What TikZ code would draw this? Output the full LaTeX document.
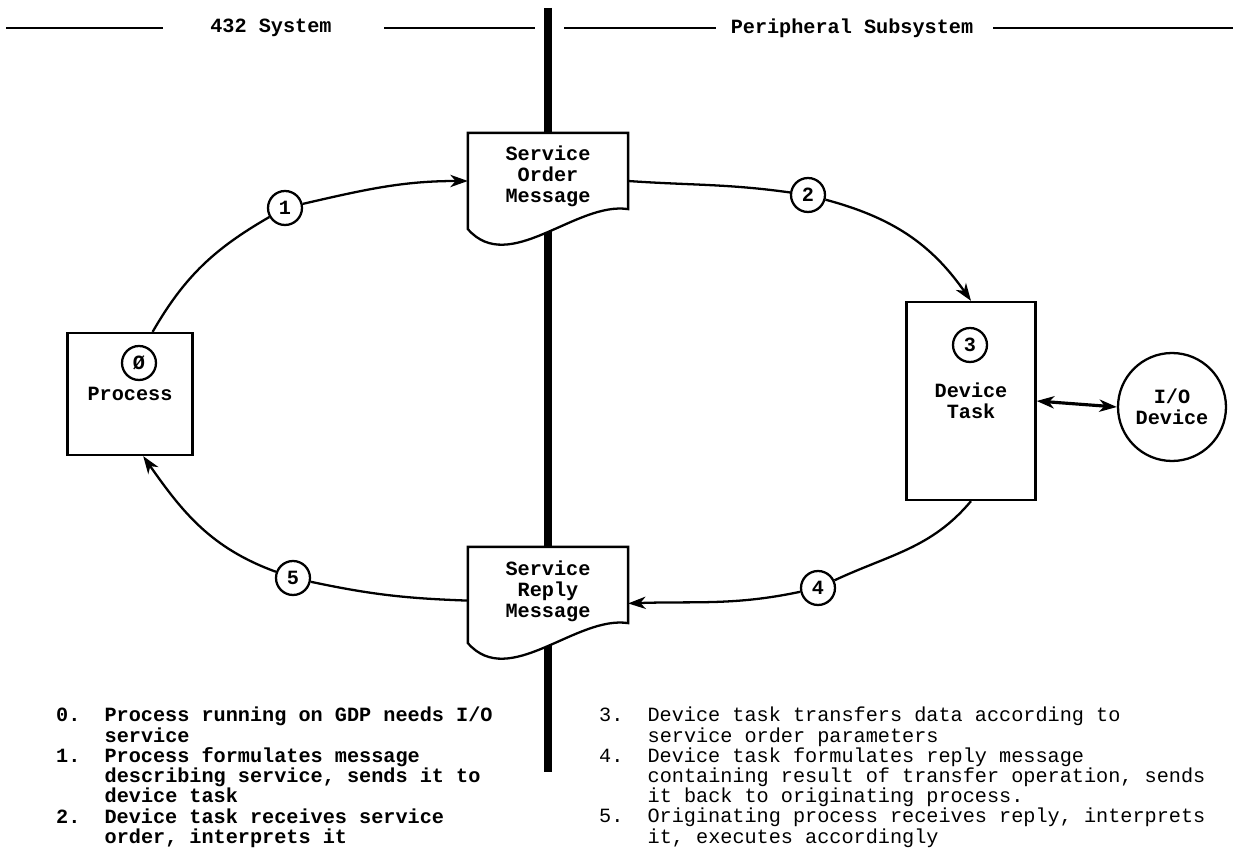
\documentclass[tikz,border=0pt]{standalone}
\usepackage{fontspec}
\setmainfont{Liberation Mono}
\usetikzlibrary{arrows.meta}

\begin{document}
\fontsize{11.5pt}{12pt}\selectfont
\begin{tikzpicture}[x=0.02cm, y=0.02cm, line width=1.3pt, >={Stealth[length=10pt,width=7pt,inset=3pt]},
  numcirc/.style={circle, draw, fill=white, minimum size=0.68cm, inner sep=0pt, font=\bfseries},
  flowbox/.style={rectangle, draw, fill=white, inner sep=0pt, align=center, font=\bfseries},
  msgbox/.style={rectangle, minimum width=3.16cm, minimum height=1.88cm, inner sep=0pt},
  msgtext/.style={align=center, inner sep=0pt, font=\bfseries},
  headrule/.style={line width=1.6pt},
  notes/.style={anchor=base west, inner sep=0pt}]
\useasboundingbox (0,0) rectangle (1235,856);
\coordinate (divtop) at (548,848);
\coordinate (divbot) at (548,84);
\draw[line width=4pt] (divtop) -- (divbot);
\node (sys) at (271,828) [font=\bfseries] {432 System};
\node (per) at (852,828) [font=\bfseries] {Peripheral Subsystem};
\coordinate (sysa) at (6,828);
\coordinate (sysb) at (163,828);
\coordinate (sysc) at (384,828);
\coordinate (sysd) at (535,828);
\coordinate (pera) at (564,828);
\coordinate (perb) at (716,828);
\coordinate (perc) at (993,828);
\coordinate (perd) at (1233,828);
\draw[headrule] (sysa) -- (sysb);
\draw[headrule] (sysc) -- (sysd);
\draw[headrule] (pera) -- (perb);
\draw[headrule] (perc) -- (perd);
\node (proc) at (130,462) [flowbox, minimum width=2.5cm, minimum height=2.44cm] {Process};
\node (c0) at (139,493) [numcirc] {Ø};
\node (task) at (971,455) [flowbox, minimum width=2.58cm, minimum height=3.96cm] {Device\\Task};
\node (c3) at (970,511) [numcirc] {3};
\node (dev) at (1172,449) [circle, draw, minimum size=2.16cm, inner sep=0pt, align=center, font=\bfseries] {I/O\\Device};
\node (order) at (548,675) [msgbox] {};
\draw[fill=white] (order.north west) -- (order.south west) .. controls +(41,-47) and +(-52,8) .. ([yshift=0.4cm]order.south east) -- (order.north east) -- cycle;
\node (ordertxt) at ([yshift=0.1cm]order.center) [msgtext] {Service\\Order\\Message};
\node (reply) at (548,261) [msgbox] {};
\draw[fill=white] (reply.north west) -- (reply.south west) .. controls +(41,-47) and +(-52,8) .. ([yshift=0.4cm]reply.south east) -- (reply.north east) -- cycle;
\node (replytxt) at ([yshift=0.08cm]reply.center) [msgtext] {Service\\Reply\\Message};
\node (c1) at (285,648) [numcirc] {1};
\node (c2) at (808,661) [numcirc] {2};
\node (c4) at (818,268) [numcirc] {4};
\node (c5) at (293,278) [numcirc] {5};
\draw (proc.70) to[out=60,in=210] (c1);
\draw[->] (c1) to[out=13,in=180] (order.west);
\draw (order.east) to[out=-4,in=172] (c2);
\draw[->] (c2) to[out=-15,in=125] (task.north);
\draw (task.south) to[out=230,in=25] (c4);
\draw[->] (c4) to[out=192,in=2] (reply.-6);
\draw (reply.184) to[out=178,in=-12] (c5);
\draw[->] (c5) to[out=160,in=-55] (proc.-78);
\draw[<->, line width=1.8pt] (task.east) -- (dev.west);
\node (notesl) at (55,134) [notes, font=\bfseries] {\fontsize{11.5pt}{10.5pt}\selectfont
  \begin{tabular}[t]{@{}l@{\hspace{1.2em}}l@{}}
  0. & Process running on GDP needs I/O\\
     & service\\
  1. & Process formulates message\\
     & describing service, sends it to\\
     & device task\\
  2. & Device task receives service\\
     & order, interprets it
  \end{tabular}};
\node (notesr) at (598,134) [notes] {\fontsize{11.5pt}{10.5pt}\selectfont
  \begin{tabular}[t]{@{}l@{\hspace{1.2em}}l@{}}
  3. & Device task transfers data according to\\
     & service order parameters\\
  4. & Device task formulates reply message\\
     & containing result of transfer operation, sends\\
     & it back to originating process.\\
  5. & Originating process receives reply, interprets\\
     & it, executes accordingly
  \end{tabular}};
\end{tikzpicture}
\end{document}
